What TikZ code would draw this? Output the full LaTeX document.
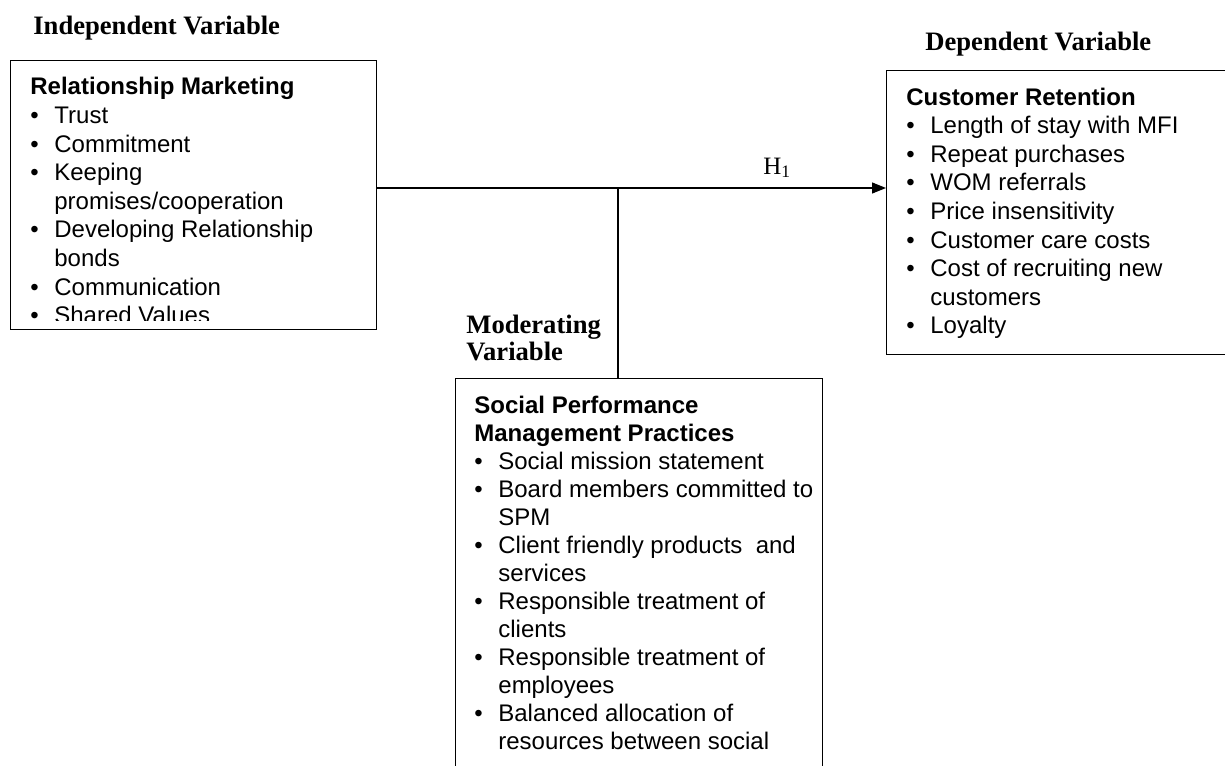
\documentclass[tikz,border=0pt]{standalone}
\usepackage{fontspec}
\setmainfont{Liberation Serif}
\setsansfont{Liberation Sans}
\usetikzlibrary{arrows.meta, positioning, calc}

% bullet and hanging indent for the variable lists
\newcommand{\bul}{\makebox[12pt][l]{\textbullet}}
\newcommand{\cnt}{\makebox[12pt][l]{}}
\newcommand{\listfont}{\sffamily\fontsize{12}{14.3}\selectfont}

\tikzset{
  varbox/.style={draw, line width=0.7pt, inner sep=0pt, anchor=north west},
  itemlist/.style={anchor=base west, inner sep=0pt, font=\listfont},
  varhead/.style={anchor=base west, inner sep=0pt, font=\fontsize{13.3}{13.5}\selectfont\bfseries},
  link/.style={line width=0.6pt},
}

\begin{document}
\begin{tikzpicture}[x=0.5pt, y=-0.5pt]
  \useasboundingbox (0,0) rectangle (1225,765);
  \clip (0,0) rectangle (1225,765);

  % the three variable boxes
  \node[varbox, minimum width=183pt, minimum height=134.5pt] (relmkt) at (10,60) {};
  \node[varbox, minimum width=177pt, minimum height=142pt] (custret) at (886,70) {};
  \node[varbox, minimum width=183.5pt, minimum height=211pt] (spm) at (455,378) {};

  % headings over the boxes
  \node[varhead] (indep) at (33,35) {Independent Variable};
  \node[varhead] (dep) at (925,51) {Dependent Variable};
  \node[varhead] (moder) at (466,333) {Moderating};
  \node[varhead] (moder2) at (466,360) {Variable};

  % box contents
  \begin{scope}
    \clip (relmkt.north west) rectangle ($(relmkt.south east)+(0,-10)$);
    \node[itemlist] (relmkt-items) at (30,95) {\parbox[t]{175pt}{%
      \textbf{Relationship Marketing}\\
      \bul Trust\\
      \bul Commitment\\
      \bul Keeping\\
      \cnt promises/cooperation\\
      \bul Developing Relationship\\
      \cnt bonds\\
      \bul Communication\\
      \bul Shared Values}};
  \end{scope}
  \node[itemlist] (custret-items) at (906,105) {\parbox[t]{165pt}{%
    \textbf{Customer Retention}\\
    \bul Length of stay with MFI\\
    \bul Repeat purchases\\
    \bul WOM referrals\\
    \bul Price insensitivity\\
    \bul Customer care costs\\
    \bul Cost of recruiting new\\
    \cnt customers\\
    \bul Loyalty}};
  \node[itemlist] (spm-items) at (474,413) {\parbox[t]{175pt}{\fontsize{12}{14}\selectfont
    \textbf{Social Performance}\\
    \textbf{Management Practices}\\
    \bul Social mission statement\\
    \bul Board members committed to\\
    \cnt SPM\\
    \bul Client friendly products~ and\\
    \cnt services\\
    \bul Responsible treatment of\\
    \cnt clients\\
    \bul Responsible treatment of\\
    \cnt employees\\
    \bul Balanced allocation of\\
    \cnt resources between social}};

  % connectors
  \coordinate (jn) at (618,188);
  \draw[link, -{Triangle[length=7pt, width=5.5pt]}] (relmkt.east |- jn) -- (custret.west |- jn);
  \draw[link] (jn) -- (jn |- spm.north);
  \node[anchor=base west, inner sep=0pt, font=\fontsize{12.5}{13}\selectfont] (hyp) at (763,174) {H\textsubscript{1}};
\end{tikzpicture}
\end{document}
